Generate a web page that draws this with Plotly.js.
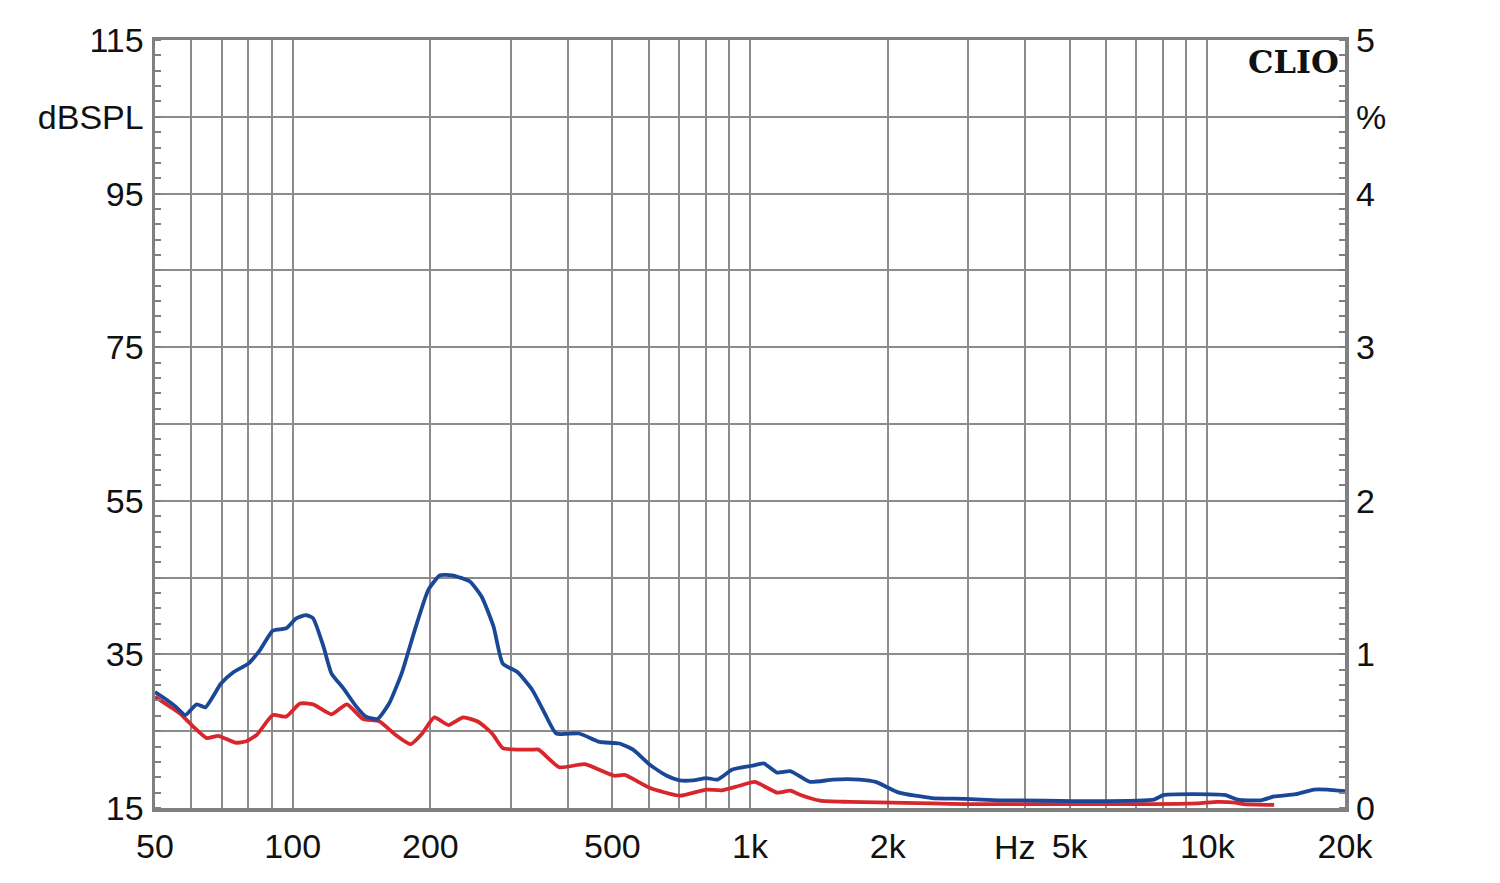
<!DOCTYPE html>
<html>
<head>
<meta charset="utf-8">
<script src="https://cdn.plot.ly/plotly-3.0.1.min.js"></script>
<style>html,body{margin:0;padding:0;background:#fff;}#chart{width:1500px;height:883px;}</style>
</head>
<body>
<div id="chart"></div>
<script>
// Blue curve (dBSPL)
const blueFreq = [50,53,55.5,58.2,61.7,64.4,69.7,74.3,80,84.9,90.5,96.8,101.8,107,110.8,116.8,121.6,129,137.8,144.6,153.3,162.5,173.5,185,198,210,223,244,259,275,288,310,334,356,377,423,469,518,555,605,658,702,750,802,850,915,1010,1072,1146,1225,1352,1518,1738,1883,2118,2500,2950,3500,3835,5085,6990,7650,8040,10900,11650,13100,14000,15600,17100,18300,20000];
const blueDb   = [30.1,29.1,28.2,27.1,28.5,28.1,31.2,32.7,33.8,35.6,38.1,38.4,39.7,40.1,39.7,36.0,32.5,30.6,28.2,26.9,26.6,28.6,32.7,38.2,43.4,45.3,45.3,44.5,42.5,38.6,33.8,32.7,30.4,27.3,24.7,24.7,23.6,23.4,22.6,20.6,19.2,18.6,18.6,18.9,18.7,20.0,20.5,20.8,19.6,19.8,18.4,18.7,18.7,18.4,17.0,16.3,16.2,16.0,16.0,15.9,15.95,16.1,16.7,16.7,16.1,16.0,16.5,16.8,17.4,17.4,17.2];
// Red curve (dBSPL)
const redFreq = [50,53.9,56.7,60.6,64.9,68.8,74.9,79.2,83.4,90.5,96.8,103.7,110.8,121.6,131.4,142.4,154.6,168,181,192,204,219,236,255,273,288,313,334,345,383,435,505,532,605,702,802,866,948,1024,1146,1225,1290,1423,1650,2500,3000,5000,7000,9500,10500,11500,12000,14000];
const redDb   = [29.5,28.2,27.3,25.6,24.1,24.4,23.5,23.7,24.5,27.1,26.9,28.6,28.5,27.2,28.5,26.6,26.3,24.5,23.3,24.7,26.8,25.8,26.8,26.2,24.7,22.8,22.6,22.6,22.6,20.3,20.7,19.2,19.3,17.6,16.6,17.4,17.3,17.9,18.4,17.0,17.25,16.7,15.95,15.8,15.6,15.5,15.5,15.5,15.6,15.8,15.7,15.5,15.4];

// Axis ticks
const xGrid = [50,60,70,80,90,100,200,300,400,500,600,700,800,900,1000,2000,3000,4000,5000,6000,7000,8000,9000,10000,20000];
const xLabels = {50:'50',100:'100',200:'200',500:'500',1000:'1k',2000:'2k',5000:'5k',10000:'10k',20000:'20k'};
const yGrid = [15,25,35,45,55,65,75,85,95,105,115];
const yLabels = {15:'15',35:'35',55:'55',75:'75',95:'95',105:'dBSPL',115:'115'};
const y2Grid = [0,0.5,1,1.5,2,2.5,3,3.5,4,4.5,5];
const y2Labels = {0:'0',1:'1',2:'2',3:'3',4:'4',4.5:'%',5:'5'};
const xUnit = 'Hz';
const brand = 'CLIO';

const gridCol = '#8c8c8c';
const frameCol = '#808080';
const fontFam = 'Liberation Sans, Arial, sans-serif';
const fs = 34;

const traces = [
  {x: redFreq, y: redDb, type:'scatter', mode:'lines', line:{color:'#d9262c', width:3.8, shape:'spline', smoothing:0.5}, hoverinfo:'skip'},
  {x: blueFreq, y: blueDb, type:'scatter', mode:'lines', line:{color:'#1a4896', width:3.8, shape:'spline', smoothing:0.5}, hoverinfo:'skip'},
  {x: [50], y: [0], yaxis:'y2', type:'scatter', mode:'markers', marker:{opacity:0}, hoverinfo:'skip'}
];

const layout = {
  width:1500, height:883,
  margin:{l:155, r:155, t:40, b:75},
  paper_bgcolor:'#fff', plot_bgcolor:'#fff',
  showlegend:false,
  font:{family:fontFam, color:'#111', size:fs},
  xaxis:{
    type:'log', range:[Math.log10(50), Math.log10(20000)],
    tickmode:'array', tickvals:xGrid, ticktext:xGrid.map(v => xLabels[v] || ''),
    showgrid:true, gridcolor:gridCol, gridwidth:2,
    showline:true, linecolor:frameCol, linewidth:3.5, mirror:true,
    ticks:'', ticklabelstandoff:6, zeroline:false,
    tickfont:{family:fontFam, size:fs, color:'#111'}
  },
  yaxis:{
    range:[15,115], tickmode:'array', tickvals:yGrid, ticktext:yGrid.map(v => yLabels[v] || ''),
    showgrid:true, gridcolor:gridCol, gridwidth:2,
    showline:true, linecolor:frameCol, linewidth:3.5, mirror:true,
    ticks:'', ticklabelstandoff:1, zeroline:false,
    minor:{ticks:'inside', tickmode:'linear', tick0:15, dtick:2, ticklen:6, tickwidth:2, tickcolor:frameCol, showgrid:false},
    tickfont:{family:fontFam, size:fs, color:'#111'}
  },
  yaxis2:{
    overlaying:'y', side:'right', range:[0,5],
    tickmode:'array', tickvals:y2Grid, ticktext:y2Grid.map(v => y2Labels[v] || ''),
    showgrid:false, showline:false, zeroline:false, ticks:'', ticklabelstandoff:10,
    minor:{ticks:'inside', tickmode:'linear', tick0:0, dtick:0.1, ticklen:6, tickwidth:2, tickcolor:frameCol, showgrid:false},
    tickfont:{family:fontFam, size:fs, color:'#111'}
  },
  annotations:[
    {text:xUnit, xref:'paper', yref:'paper', x:(1015-155)/1190, y:0, yshift:-39, xanchor:'center', yanchor:'middle', showarrow:false, font:{family:fontFam, size:fs, color:'#111'}},
    {text:'<b>'+brand+'</b>', xref:'paper', yref:'paper', x:1, xshift:-4, y:1, yshift:-1, xanchor:'right', yanchor:'top', showarrow:false, font:{family:'DejaVu Serif, Liberation Serif, serif', size:32, color:'#111'}}
  ]
};

Plotly.newPlot('chart', traces, layout, {staticPlot:true, displayModeBar:false});
</script>
</body>
</html>
